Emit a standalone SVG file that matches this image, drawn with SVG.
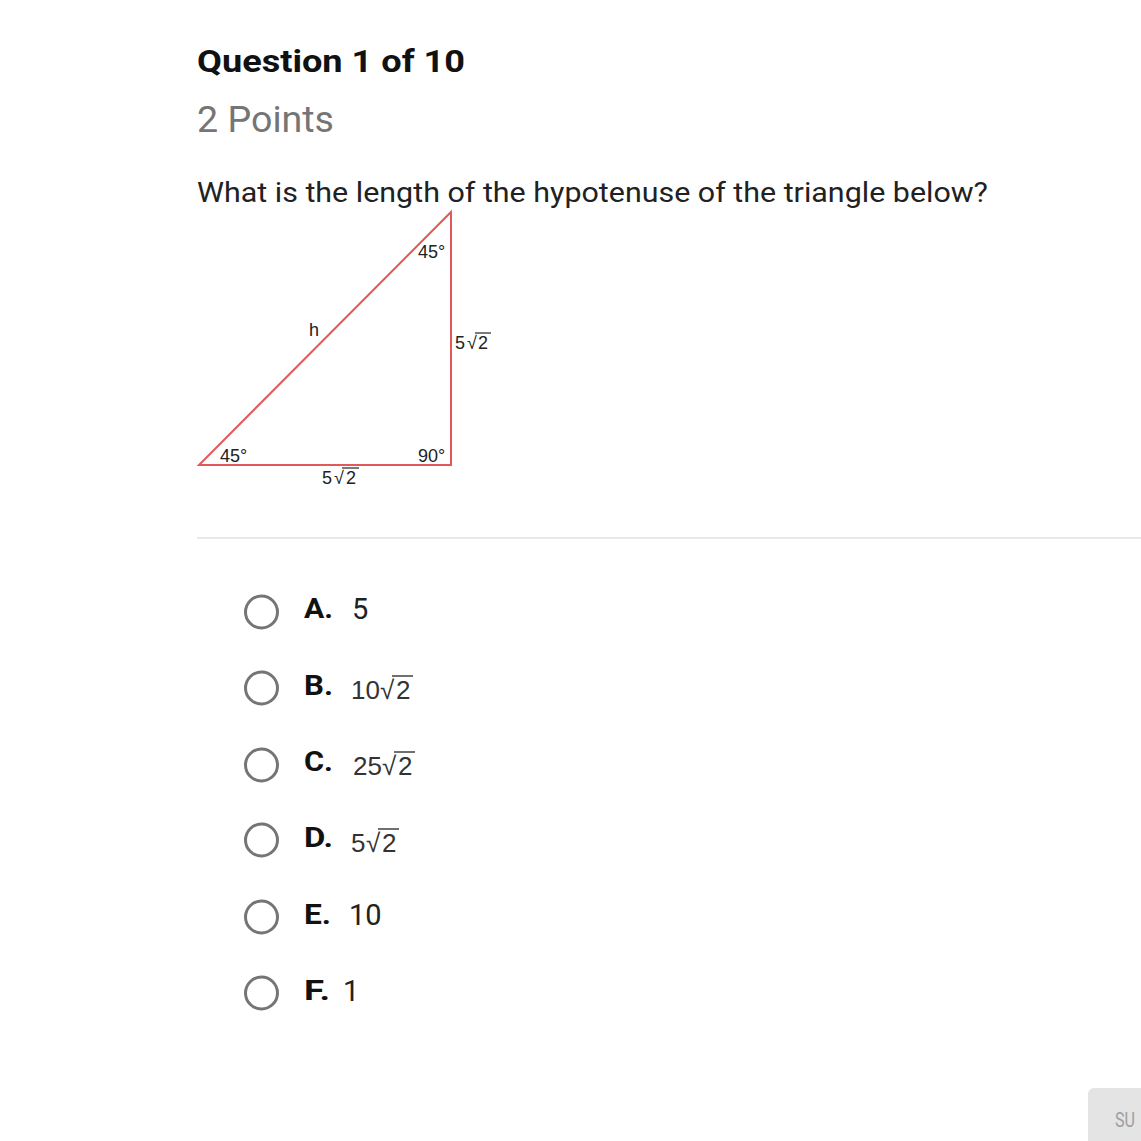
<svg xmlns="http://www.w3.org/2000/svg" width="1141" height="1141" viewBox="0 0 1141 1141">
<style>
.tri{font-family:"Liberation Sans",Arial,sans-serif;font-size:18px;fill:#222}
.opt{font-family:Roboto,"Liberation Sans",sans-serif;font-size:29px;fill:#212121}
.lbl{font-family:Roboto,"Liberation Sans",sans-serif;font-size:28px;font-weight:bold;fill:#111}
.sq{font-family:"Liberation Sans",Arial,sans-serif;font-size:26px;fill:#333}
.radio{fill:#fff;stroke:#757575;stroke-width:3}
.ov{stroke:#333;stroke-width:1.4}
.ovt{stroke:#222;stroke-width:1.2}
</style>
<rect width="1141" height="1141" fill="#fff"/>
<g id="header">
<text x="197" y="72" font-family="Roboto,'Liberation Sans',sans-serif" font-size="32" font-weight="bold" fill="#111" textLength="268" lengthAdjust="spacingAndGlyphs">Question 1 of 10</text>
<text x="197" y="132" font-family="Roboto,'Liberation Sans',sans-serif" font-size="36" fill="#757575" textLength="137" lengthAdjust="spacingAndGlyphs">2 Points</text>
<text x="197" y="202" font-family="Roboto,'Liberation Sans',sans-serif" font-size="28" fill="#212121" textLength="791" lengthAdjust="spacingAndGlyphs">What is the length of the hypotenuse of the triangle below?</text>
</g>
<g id="triangle">
<polygon points="199,465 451,465 451,212" fill="none" stroke="#e05a5a" stroke-width="2"/>
<text class="tri" x="418" y="258">45°</text>
<text class="tri" x="309" y="336">h</text>
<text class="tri" y="349"><tspan x="455">5</tspan><tspan x="467">√</tspan><tspan x="478">2</tspan></text>
<line class="ovt" x1="475" y1="333" x2="491" y2="333"/>
<text class="tri" x="220" y="462">45°</text>
<text class="tri" x="418" y="462">90°</text>
<text class="tri" y="484"><tspan x="322">5</tspan><tspan x="334">√</tspan><tspan x="346">2</tspan></text>
<line class="ovt" x1="342" y1="468" x2="359" y2="468"/>
</g>
<line x1="197" y1="538" x2="1141" y2="538" stroke="#e0e0e0" stroke-width="1.5"/>
<g id="optA"><circle class="radio" cx="261.5" cy="612" r="16"/><text class="lbl" x="304" y="618" textLength="29" lengthAdjust="spacingAndGlyphs">A.</text><text class="opt" x="352" y="619">5</text></g>
<g id="optB"><circle class="radio" cx="261.5" cy="688" r="16"/><text class="lbl" x="304" y="695" textLength="29" lengthAdjust="spacingAndGlyphs">B.</text><text class="sq" y="699"><tspan x="351">10</tspan><tspan x="380">√</tspan><tspan x="396">2</tspan></text><line class="ov" x1="392" y1="676" x2="413" y2="676"/></g>
<g id="optC"><circle class="radio" cx="261.5" cy="765" r="16"/><text class="lbl" x="304" y="771" textLength="29" lengthAdjust="spacingAndGlyphs">C.</text><text class="sq" y="775"><tspan x="353">25</tspan><tspan x="382">√</tspan><tspan x="398">2</tspan></text><line class="ov" x1="394" y1="752" x2="415" y2="752"/></g>
<g id="optD"><circle class="radio" cx="261.5" cy="840" r="16"/><text class="lbl" x="304" y="847" textLength="29" lengthAdjust="spacingAndGlyphs">D.</text><text class="sq" y="852"><tspan x="351">5</tspan><tspan x="366">√</tspan><tspan x="382">2</tspan></text><line class="ov" x1="378" y1="829" x2="399" y2="829"/></g>
<g id="optE"><circle class="radio" cx="261.5" cy="917" r="16"/><text class="lbl" x="304" y="924" textLength="27" lengthAdjust="spacingAndGlyphs">E.</text><text class="opt" x="349" y="925">10</text></g>
<g id="optF"><circle class="radio" cx="261.5" cy="993" r="16"/><text class="lbl" x="304" y="1000" textLength="26" lengthAdjust="spacingAndGlyphs">F.</text><text class="opt" x="343" y="1001">1</text></g>
<g id="submit">
<rect x="1088" y="1088" width="70" height="70" rx="6" fill="#e4e4e4"/>
<text x="1115" y="1127" font-family="Roboto,'Liberation Sans',sans-serif" font-size="21" fill="#a0a0a0" textLength="20" lengthAdjust="spacingAndGlyphs">SU</text>
</g>
</svg>
